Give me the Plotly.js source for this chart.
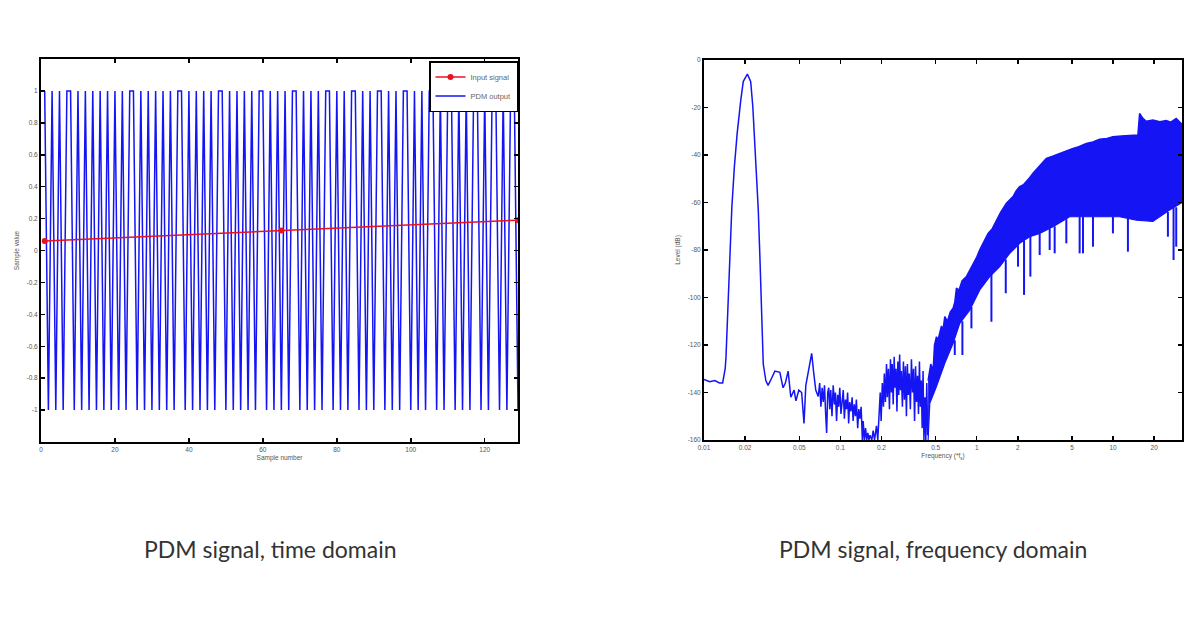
<!DOCTYPE html>
<html>
<head>
<meta charset="utf-8">
<script src="https://cdn.plot.ly/plotly-3.0.1.min.js"></script>
<style>
html,body{margin:0;padding:0;background:#fff;}
#chart{width:1198px;height:618px;}
</style>
</head>
<body>
<div id="chart"></div>
<script>
// ---------- Left chart: time domain ----------
const inputX = [1, 65, 129];
const inputY = [0.06, 0.125, 0.19];

const pdmX = Array.from({length: 129}, (_, i) => i + 1);
const pdmY = [
  1,-1,1,-1,1,-1,
  1,1,-1,1,-1,1,-1,1,-1,1,-1,1,-1,1,-1,1,-1,
  1,1,-1,1,-1,1,-1,1,-1,1,-1,1,-1,
  1,1,-1,1,-1,1,-1,1,-1,1,-1,
  1,1,-1,1,-1,1,-1,1,-1,1,-1,
  1,1,-1,1,-1,1,-1,1,-1,
  1,1,-1,1,-1,1,-1,1,-1,
  1,1,-1,1,-1,1,-1,
  1,1,-1,1,-1,1,-1,
  1,1,-1,1,-1,1,-1,
  1,1,-1,1,-1,1,-1,
  1,1,-1,1,-1,
  1,1,-1,1,-1,1,-1,
  1,1,-1,1,-1,
  1,1,-1,1,-1,
  1,1,-1
];
const timeXTicks = [0, 20, 40, 60, 80, 100, 120];
const timeYTicks = [-1, -0.8, -0.6, -0.4, -0.2, 0, 0.2, 0.4, 0.6, 0.8, 1];
const timeYTickText = ['-1', '-0.8', '-0.6', '-0.4', '-0.2', '0', '0.2', '0.4', '0.6', '0.8', '1'];

// ---------- Right chart: frequency domain ----------
const specFreq = [
  0.0100,0.0110,0.0120,0.0130,0.0137,0.0143,0.0145,0.0147,0.0151,0.0155,
  0.0160,0.0167,0.0175,0.0186,0.0194,0.0208,0.0220,0.0228,0.0238,0.0250,
  0.0257,0.0264,0.0272,0.0284,0.0295,0.0313,0.0331,0.0360,0.0380,0.0395,
  0.0414,0.0433,0.0458,0.0472,0.0496,0.0520,0.0541,0.0558,0.0590,0.0616,
  0.0637,0.0660,0.0688,
  0.0705,0.0720,0.0735,0.0749,0.0765,0.0780,0.0793,0.0808,0.0822,0.0836,
  0.0850,0.0868,0.0886,0.0905,0.0920,0.0938,0.0955,0.0972,0.0990,0.1010,
  0.1030,0.1050,0.1070,0.1090,0.1110,0.1130,0.1150,0.1170,0.1195,0.1220,
  0.1240,0.1265,0.1290,0.1310,0.1340,0.1365,0.1390,0.1420,0.1450,0.1470,
  0.1500,0.1530,0.1560,0.1590,0.1620,0.1650,0.1700,0.1740,0.1780,0.1840,
  0.1880,0.1930,0.1960,0.1990,0.2030,0.2070,0.2100,0.2140,0.2180,0.2210,
  0.2250,0.2290,0.2330,0.2370,0.2400,0.2440,0.2480,0.2520,0.2560,0.2600,
  0.2640,0.2680,0.2720,0.2760,0.2800,0.2850,0.2900,0.2950,0.3000,0.3050,
  0.3100,0.3150,0.3200,0.3260,0.3320,0.3380,0.3440,0.3500,0.3560,0.3620,
  0.3680,0.3740,0.3800,0.3860,0.3920,0.3980,0.4040,0.4100,0.4170,0.4230,
  0.4300,0.4370
];
const specLevel = [
  -134.5,-135.5,-135,-136,-136,-130,-125,-117,-102,-80,
  -62,-45,-31,-17,-9.1,-5.9,-9.1,-19.6,-37.9,-63,
  -83,-108,-128,-135,-137,-134,-131,-131.5,-138,-136,
  -131,-142,-139,-143.5,-139,-140,-153,-137,-129,-123.5,
  -131.5,-139,-141.7,
  -136,-146,-138,-144,-137,-149,-157,-140,-138,-147,
  -139,-150,-137,-145,-140,-152,-141,-146,-138,-149,
  -142,-139,-151,-143,-147,-140,-153,-144,-148,-142,
  -152,-145,-150,-143,-155,-147,-151,-146,-160,-152,
  -160,-155,-160,-157,-160,-158,-160,-156,-160,-154,
  -160,-150,-140,-152,-136,-146,-132,-144,-128,-142,
  -130,-147,-126,-140,-128,-145,-125,-138,-130,-148,
  -127,-141,-124,-139,-131,-146,-127,-143,-129,-150,
  -128,-141,-132,-147,-126,-140,-130,-152,-129,-144,
  -133,-149,-127,-146,-135,-155,-131,-160,-142,-160,
  -136,-158
];

const bandTopFreq = [0.440,0.460,0.479,0.490,0.5065,0.520,0.5511,0.565,0.5829,0.610,
  0.640,0.6708,0.690,0.7098,0.740,0.780,0.840,0.880,0.940,1.000,
  1.050,1.082,1.150,1.211,1.300,1.394,1.500,1.650,1.750,1.846,
  1.950,2.065,2.200,2.311,2.450,2.586,2.750,2.894,3.050,3.239,
  3.600,4.056,4.500,5.078,5.600,6.360,7.100,7.965,9.000,9.970,
  11.50,13.98,15.20,15.64,16.54,17.50,19.58,22.00,24.52,26.50,
  29.03,31.58,32.00];
const bandTopLevel = [-135,-128,-130.5,-120,-116.5,-118,-112,-114,-108,-110,
  -106,-104.5,-102,-96,-97,-93,-91.2,-89,-85.6,-83,
  -80,-78.6,-76,-73,-71,-67.4,-64,-60.3,-59,-57.5,
  -55,-53.3,-52.5,-51.2,-49.5,-47.7,-46,-44.2,-43,-41.4,
  -40.5,-39.3,-38.5,-37.2,-36.5,-35.1,-34.5,-33.4,-33,-32.3,
  -32,-31.6,-31.6,-22.5,-24.6,-25.8,-25.3,-26,-25.5,-26.2,
  -24.6,-26.7,-27];

const bandBotFreq = [0.440,0.4525,0.5065,0.5829,0.6708,0.7508,0.8886,1.052,1.245,1.474,
  1.745,2.065,2.445,2.894,3.624,4.801,6.360,8.426,11.16,14.78,19.58,25.93,31.58,32];
const bandBotLevel = [-160,-144.5,-137.5,-127.7,-119.3,-110.9,-105.3,-96.8,-91.2,-87,
  -81.4,-77.2,-74.4,-73,-70.2,-66,-66,-66,-66,-67.4,-68,-63.2,-60.3,-60];

const spikeFreq = [0.690,0.785,0.914,1.281,1.632,2.008,2.223,2.473,2.894,3.426,
  3.727,4.538,5.683,6.012,7.117,9.97,12.84,25.22,27.75,29.03];
const spikeBase = [-118,-110,-104,-90,-84,-78,-76,-74,-73,-71,
  -70,-67,-66,-66,-66,-66,-66,-64,-62,-62];
const spikeTip = [-124.2,-124.2,-113,-110.2,-98.2,-87,-98.9,-91.2,-82.1,-80,
  -81.4,-77.2,-81.4,-81.4,-78.6,-73,-80.7,-74.4,-84.2,-78.6];

const freqTicks = [0.01, 0.02, 0.05, 0.1, 0.2, 0.5, 1, 2, 5, 10, 20];
const freqTickText = ['0.01', '0.02', '0.05', '0.1', '0.2', '0.5', '1', '2', '5', '10', '20'];
const levelTicks = [0, -20, -40, -60, -80, -100, -120, -140, -160];

// ---------- build ----------
const spikeX = [], spikeY = [];
for (let i = 0; i < spikeFreq.length; i++) {
  spikeX.push(spikeFreq[i], spikeFreq[i], null);
  spikeY.push(spikeBase[i], spikeTip[i], null);
}

const BLUE = 'rgb(20,20,245)';
const tickFont = {family: 'Liberation Sans, Arial, sans-serif', size: 6.5, color: '#555'};
const titleFont = {family: 'Liberation Sans, Arial, sans-serif', size: 6.5, color: '#555'};

const traces = [
  {x: pdmX, y: pdmY, type: 'scatter', mode: 'lines', name: 'PDM output',
   line: {color: BLUE, width: 1.5}, xaxis: 'x', yaxis: 'y'},
  {x: inputX, y: inputY, type: 'scatter', mode: 'lines+markers', name: 'Input signal',
   line: {color: 'rgb(230,20,30)', width: 1.5}, marker: {color: 'rgb(230,20,30)', size: 6},
   xaxis: 'x', yaxis: 'y'},
  {x: specFreq, y: specLevel, type: 'scatter', mode: 'lines', showlegend: false,
   line: {color: BLUE, width: 1.5}, xaxis: 'x2', yaxis: 'y2'},
  {x: bandTopFreq, y: bandTopLevel, type: 'scatter', mode: 'lines', showlegend: false,
   line: {color: BLUE, width: 1.5}, xaxis: 'x2', yaxis: 'y2'},
  {x: bandBotFreq, y: bandBotLevel, type: 'scatter', mode: 'lines', showlegend: false,
   fill: 'tonexty', fillcolor: BLUE,
   line: {color: BLUE, width: 1.2}, xaxis: 'x2', yaxis: 'y2'},
  {x: spikeX, y: spikeY, type: 'scatter', mode: 'lines', showlegend: false,
   line: {color: BLUE, width: 2}, xaxis: 'x2', yaxis: 'y2', connectgaps: false}
];

const axisCommon = {
  showline: true, linecolor: '#000', linewidth: 2, mirror: 'ticks',
  ticks: 'inside', ticklen: 4, tickwidth: 1.5, tickcolor: '#000',
  showgrid: false, zeroline: false, tickfont: tickFont
};

const layout = {
  width: 1198, height: 618,
  margin: {l: 0, r: 0, t: 0, b: 0},
  paper_bgcolor: '#fff', plot_bgcolor: '#fff',
  showlegend: true,
  legend: {
    x: 518/1198, xanchor: 'right', y: (618-61)/618, yanchor: 'top',
    bordercolor: '#000', borderwidth: 1.5, bgcolor: '#fff',
    font: {family: 'Liberation Sans, Arial, sans-serif', size: 7.5, color: '#666'},
    traceorder: 'reversed', tracegroupgap: 0, itemwidth: 30
  },
  xaxis: Object.assign({}, axisCommon, {
    domain: [41/1198, 518/1198], range: [0, 129],
    tickvals: timeXTicks, ticktext: timeXTicks.map(String),
    title: {text: 'Sample number', font: titleFont, standoff: 4},
    anchor: 'y'
  }),
  yaxis: Object.assign({}, axisCommon, {
    domain: [(618-442)/618, (618-59)/618], range: [-1.2, 1.2],
    tickvals: timeYTicks, ticktext: timeYTickText,
    title: {text: 'Sample value', font: titleFont, standoff: 6},
    anchor: 'x'
  }),
  xaxis2: Object.assign({}, axisCommon, {
    domain: [704/1198, 1182/1198], type: 'log',
    range: [Math.log10(0.01), Math.log10(32)],
    tickvals: freqTicks, ticktext: freqTickText,
    title: {text: 'Frequency (*f<sub>s</sub>)', font: titleFont, standoff: 4},
    anchor: 'y2'
  }),
  yaxis2: Object.assign({}, axisCommon, {
    domain: [(618-440)/618, (618-60)/618], range: [-160, 0],
    tickvals: levelTicks, ticktext: levelTicks.map(String),
    title: {text: 'Level (dB)', font: titleFont, standoff: 6},
    anchor: 'x2'
  }),
  annotations: [
    {text: 'PDM signal, time domain', x: 270/1198, y: (618-549)/618,
     xref: 'paper', yref: 'paper', showarrow: false, xanchor: 'center', yanchor: 'middle',
     font: {family: 'Lato, Open Sans, sans-serif', size: 23, color: '#333'}},
    {text: 'PDM signal, frequency domain', x: 933/1198, y: (618-549)/618,
     xref: 'paper', yref: 'paper', showarrow: false, xanchor: 'center', yanchor: 'middle',
     font: {family: 'Lato, Open Sans, sans-serif', size: 23, color: '#333'}}
  ]
};

Plotly.newPlot('chart', traces, layout, {staticPlot: true, displayModeBar: false});
</script>
</body>
</html>
